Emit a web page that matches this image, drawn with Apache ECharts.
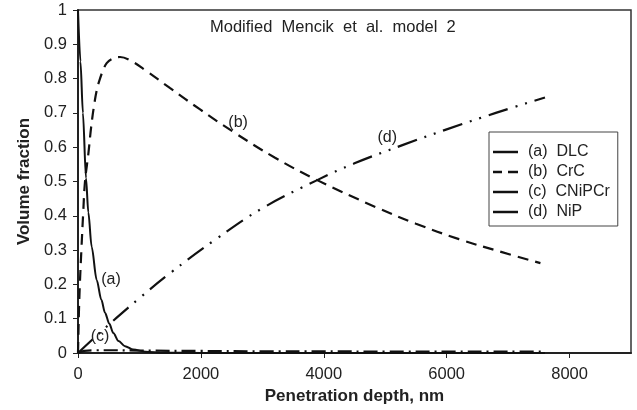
<!DOCTYPE html>
<html>
<head>
<meta charset="utf-8">
<script src="https://cdn.jsdelivr.net/npm/echarts@6/dist/echarts.min.js"></script>
<style>html,body{margin:0;padding:0;background:#fff;}#c{width:637px;height:410px;}</style>
</head>
<body>
<div id="c"></div>
<script>
// ---- data ----
const titleText = 'Modified  Mencik  et  al.  model  2';
const seriesNames = ['(a)  DLC', '(b)  CrC', '(c)  CNiPCr', '(d)  NiP'];
const curveLabels = ['(a)', '(b)', '(c)', '(d)'];
const labelAt = [[538, 0.213], [2606, 0.673], [358, 0.047], [5033, 0.627]];

const dlcX = [0, 40, 80, 130, 168, 222, 304, 380, 440, 510, 575, 660, 765, 900, 1100, 1400, 2000, 3000, 4000, 5000, 6000, 7000, 7600];
const dlcY = [1, 0.85, 0.70, 0.51, 0.41, 0.31, 0.213, 0.155, 0.117, 0.085, 0.058, 0.035, 0.02, 0.01, 0.004, 0.001, 0, 0, 0, 0, 0, 0, 0];

const crcX = [0, 5, 15, 30, 55, 85, 114, 168, 215, 260, 310, 358, 410, 467, 560, 684, 850, 1100, 1500, 1987, 2525, 3200, 3893, 4838, 5500, 6200, 6900, 7526];
const crcY = [0, 0.04, 0.12, 0.2, 0.3, 0.41, 0.5, 0.58, 0.66, 0.72, 0.77, 0.80, 0.825, 0.845, 0.858, 0.863, 0.853, 0.824, 0.772, 0.71, 0.645, 0.57, 0.504, 0.426, 0.377, 0.332, 0.294, 0.262];

const cnpX = [0, 100, 300, 600, 1000, 2000, 3000, 4000, 5000, 6000, 7000, 7600];
const cnpY = [0, 0.006, 0.008, 0.008, 0.007, 0.006, 0.005, 0.005, 0.004, 0.004, 0.004, 0.004];

const nipX = [0, 300, 630, 1000, 1500, 2230, 3000, 3893, 4500, 5280, 6000, 6800, 7600];
const nipY = [0, 0.05, 0.103, 0.16, 0.233, 0.33, 0.422, 0.504, 0.553, 0.606, 0.652, 0.70, 0.745];

const xTicks = { min: 0, max: 9000, interval: 2000 };
const yTicks = { min: 0, max: 1, interval: 0.1 };
// ---------------------------------------

const zip = (xs, ys) => xs.map((x, i) => [x, ys[i]]);
const font = 'Liberation Sans, Arial, Helvetica, sans-serif';
const ink = '#111';
const dashes = ['solid', [11, 7], [14, 5, 2, 5], [20, 8, 2, 8, 2, 8]];
const datas = [zip(dlcX, dlcY), zip(crcX, crcY), zip(cnpX, cnpY), zip(nipX, nipY)];
const solidIcon = 'path://M0,0H25V2.5H0Z';
const dashIcon = 'path://M0,0H9V2.5H0Z M15,0H25V2.5H15Z';

const series = datas.map((d, i) => ({
  name: seriesNames[i],
  type: 'line',
  data: d,
  symbol: 'none',
  showSymbol: false,
  smooth: i === 0 ? 0.3 : 0.4,
  smoothMonotone: i === 0 ? 'x' : undefined,
  lineStyle: { color: ink, width: i === 0 ? 2 : 2.2, type: dashes[i], cap: 'butt' },
  itemStyle: { color: ink },
  z: 3,
  markPoint: {
    symbol: 'circle', symbolSize: 1,
    itemStyle: { color: 'rgba(0,0,0,0)' },
    label: { show: true, position: 'inside', formatter: curveLabels[i], color: '#222', fontSize: 16, fontFamily: font },
    data: [{ coord: labelAt[i] }]
  }
}));

const chart = echarts.init(document.getElementById('c'), null, { renderer: 'canvas' });
chart.setOption({
  animation: false,
  backgroundColor: '#fff',
  title: {
    text: titleText, left: 210, top: 19, padding: 0,
    textStyle: { fontSize: 16.5, fontWeight: 'normal', color: '#222', fontFamily: font }
  },
  grid: { left: 78, top: 10, right: 6, bottom: 57, show: true, borderColor: '#333', borderWidth: 1.5 },
  legend: {
    orient: 'vertical', left: 489, top: 132,
    backgroundColor: '#fff', borderColor: '#444', borderWidth: 1,
    padding: [12, 8, 6, 4], itemGap: 4, itemWidth: 25, itemHeight: 14,
    textStyle: { fontSize: 16, color: '#222', fontFamily: font, padding: [0, 0, 0, 5] },
    data: seriesNames.map((n, i) => ({
      name: n,
      icon: i === 1 ? dashIcon : solidIcon,
      itemStyle: { color: ink, borderWidth: 0 }
    }))
  },
  xAxis: {
    type: 'value', min: xTicks.min, max: xTicks.max, interval: xTicks.interval,
    name: 'Penetration depth, nm', nameLocation: 'middle', nameGap: 31,
    nameTextStyle: { fontSize: 17, fontWeight: 'bold', color: '#222', fontFamily: font },
    axisLine: { lineStyle: { color: '#222', width: 2 } },
    axisTick: { show: true, length: 5, inside: false, lineStyle: { color: '#222' } },
    axisLabel: { fontSize: 16.5, color: '#222', fontFamily: font, margin: 13, showMaxLabel: false,
      formatter: v => String(v) },
    splitLine: { show: false }
  },
  yAxis: {
    type: 'value', min: yTicks.min, max: yTicks.max, interval: yTicks.interval,
    name: 'Volume fraction', nameLocation: 'middle', nameGap: 44.5,
    nameTextStyle: { fontSize: 17, fontWeight: 'bold', color: '#222', fontFamily: font },
    axisLine: { lineStyle: { color: '#222', width: 2 } },
    axisTick: { show: true, length: 5, inside: false, lineStyle: { color: '#222' } },
    axisLabel: { fontSize: 16.5, color: '#222', fontFamily: font, margin: 11,
      formatter: v => String(Math.round(v * 10) / 10) },
    splitLine: { show: false }
  },
  series: series
});
</script>
</body>
</html>
